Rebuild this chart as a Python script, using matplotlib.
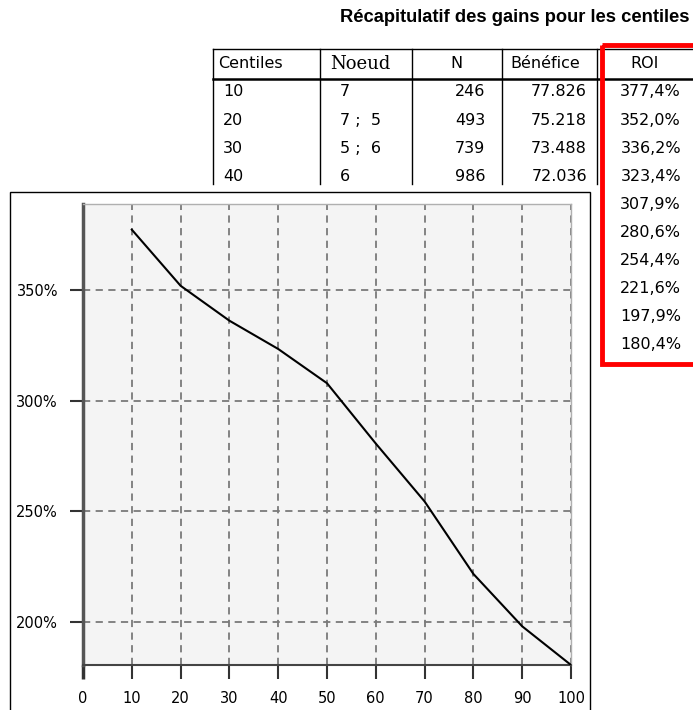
import matplotlib
matplotlib.use("Agg")
import matplotlib.pyplot as plt
from matplotlib.patches import Rectangle

# donnees du tableau / de la courbe
centiles = [10, 20, 30, 40, 50, 60, 70, 80, 90, 100]
noeud = ["7", "7 ;  5", "5 ;  6", "6"]
effectif = [246, 493, 739, 986]
benefice = [77826, 75218, 73488, 72036]
roi = [377.4, 352.0, 336.2, 323.4, 307.9, 280.6, 254.4, 221.6, 197.9, 180.4]

xticks = list(range(0, 101, 10))
yticks = [200, 250, 300, 350]

W, H = 693, 710
fig = plt.figure(figsize=(W / 100, H / 100), dpi=100)

# calque en pixels pour le tableau et le cadre
bg = fig.add_axes([0, 0, 1, 1], zorder=0)
bg.set_xlim(0, W)
bg.set_ylim(H, 0)
bg.axis("off")

bg.text(689, 18, "Récapitulatif des gains pour les centiles", ha="right", va="center",
        fontsize=13.2, fontweight="bold", family="Liberation Sans")

# lignes du tableau
top, head, cut = 49, 79, 184
cols = [213, 320, 412, 502, 597]
bg.plot([213, W], [top, top], color="black", lw=1)
bg.plot([213, W], [head, head], color="black", lw=1.8)
for c in cols:
    bg.plot([c, c], [top, cut], color="black", lw=1)

tf = dict(fontsize=11.5, family="DejaVu Sans", va="center")
hy = 64
bg.text(218, hy, "Centiles", ha="left", **tf)
bg.text(330, hy, "Noeud", ha="left", va="center", fontsize=13, family="DejaVu Serif")
bg.text(456, hy, "N", ha="center", **tf)
bg.text(510, hy, "Bénéfice", ha="left", **tf)
bg.text(630, hy, "ROI", ha="left", **tf)

row0, dy = 92, 28.1
for i in range(len(noeud)):
    y = row0 + i * dy
    bg.text(223, y, str(centiles[i]), ha="left", **tf)
    bg.text(340, y, noeud[i], ha="left", **tf)
    bg.text(485, y, str(effectif[i]), ha="right", **tf)
    bg.text(587, y, f"{benefice[i]:,}".replace(",", "."), ha="right", **tf)
for i, v in enumerate(roi):
    y = row0 + i * dy
    bg.text(681, y, f"{v:.1f}%".replace(".", ","), ha="right", **tf)

# cadre rouge
bg.add_patch(Rectangle((602, 45), 120, 319, fill=False, edgecolor="#ff0000", lw=3.5, zorder=5))

# cadre blanc du graphique
bg.add_patch(Rectangle((10, 192), 580, 540, facecolor="white", edgecolor="black", lw=1, zorder=6))

# graphique
ax = fig.add_axes([83 / W, 1 - 665 / H, (571 - 83) / W, (665 - 204) / H], zorder=2)
ax.set_facecolor("#f4f4f4")
ax.plot(centiles, roi, color="black", lw=1.5, zorder=3)
ax.set_xlim(0, 100)
ax.set_ylim(180.4, 389)
ax.set_xticks(xticks)
ax.set_yticks(yticks)
ax.set_yticklabels([f"{t}%" for t in yticks])
ax.grid(True, color="#7a7a7a", ls=(0, (4, 3)), lw=1.3)
ax.set_axisbelow(True)

for s in ["top", "right"]:
    ax.spines[s].set_color("#b0b0b0")
    ax.spines[s].set_linewidth(1)
ax.spines["left"].set_color("#555555")
ax.spines["left"].set_linewidth(2.5)
ax.spines["bottom"].set_color("#444444")
ax.spines["bottom"].set_linewidth(1.5)

ax.tick_params(axis="x", direction="out", length=10, width=1.5, color="#333333",
               pad=9, labelsize=10.5)
ax.tick_params(axis="y", direction="out", length=9.5, width=1.5, color="#333333",
               pad=8.5, labelsize=10.5)
# le trait de 0 prolonge l'axe vertical
ax.get_xticklines()[0].set_markeredgewidth(2.5)

fig.savefig("out.png", dpi=100)
